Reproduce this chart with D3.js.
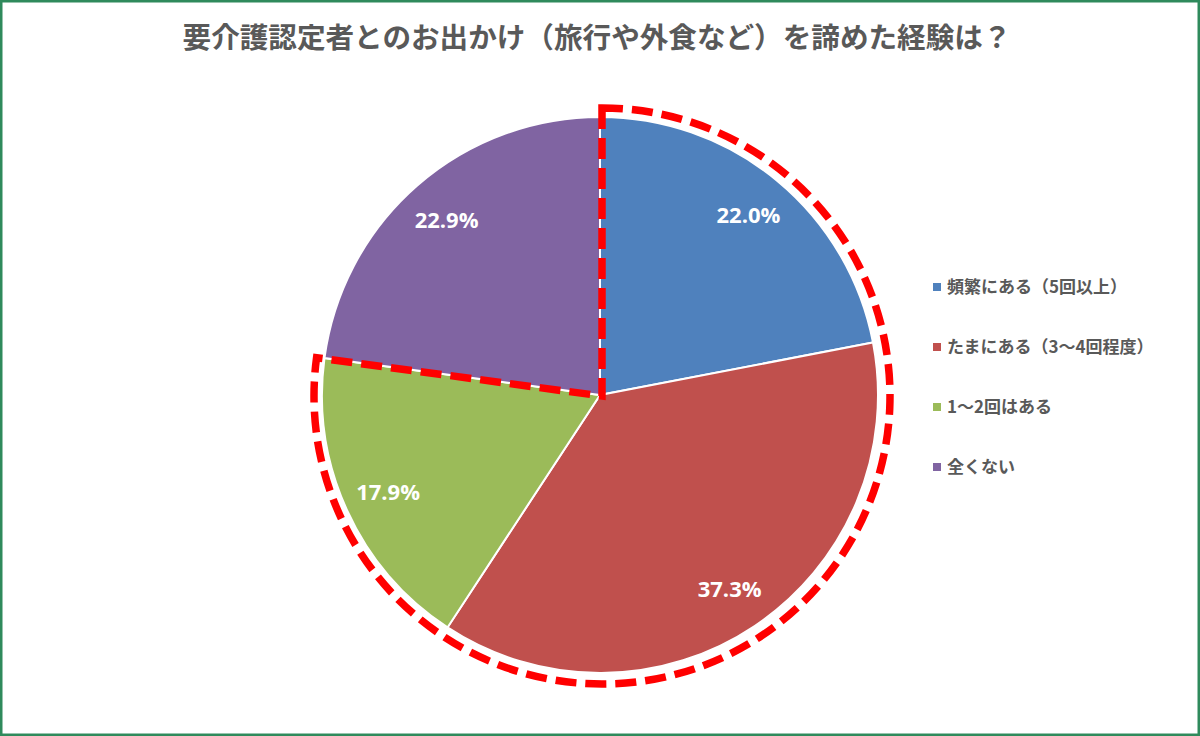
<!DOCTYPE html>
<html>
<head>
<meta charset="utf-8">
<script src="https://cdn.jsdelivr.net/npm/d3@7"></script>
<style>
  html, body { margin: 0; padding: 0; background: #fff; }
  svg { display: block; }
</style>
</head>
<body>
<svg id="chart"></svg>
<script>
const titleText = '要介護認定者とのお出かけ（旅行や外食など）を諦めた経験は？';
const categories = ['頻繁にある（5回以上）', 'たまにある（3〜4回程度）', '1〜2回はある', '全くない'];
const values = [22.0, 37.3, 17.9, 22.9];
const colors = ['#4f81bd', '#c0504d', '#9bbb59', '#8064a2'];
// slices wrapped by the red dashed outline (first three)
const highlighted = 3;

const W = 1200, H = 736;
const cx = 600, cy = 395, r = 278;

const svg = d3.select('#chart').attr('width', W).attr('height', H);

// Green frame
svg.append('rect')
  .attr('x', 1.25).attr('y', 1.25)
  .attr('width', W - 2.5).attr('height', H - 2.5)
  .attr('fill', '#fff')
  .attr('stroke', '#2f8a5c')
  .attr('stroke-width', 2.5);

// Title
svg.append('text')
  .attr('x', 597).attr('y', 48)
  .attr('text-anchor', 'middle')
  .style('font-family', "'Noto Sans CJK JP', sans-serif")
  .style('font-weight', 700)
  .style('font-size', '28.6px')
  .style('fill', '#595959')
  .text(titleText);

const data = categories.map((c, i) => ({ name: c, value: values[i], color: colors[i] }));

const pie = d3.pie().value(d => d.value).sort(null);
const arcs = pie(data);
const arc = d3.arc().innerRadius(0).outerRadius(r);
const labelArc = d3.arc().innerRadius(233).outerRadius(233);

const g = svg.append('g').attr('transform', `translate(${cx},${cy})`);

g.selectAll('path.slice')
  .data(arcs)
  .enter()
  .append('path')
  .attr('class', 'slice')
  .attr('d', arc)
  .attr('fill', d => d.data.color)
  .attr('stroke', '#fff')
  .attr('stroke-width', 2);

// Data labels
g.selectAll('text.lbl')
  .data(arcs)
  .enter()
  .append('text')
  .attr('class', 'lbl')
  .attr('transform', d => `translate(${labelArc.centroid(d)})`)
  .attr('text-anchor', 'middle')
  .attr('dy', '0.36em')
  .style('font-family', "'Open Sans', sans-serif")
  .style('font-weight', 700)
  .style('font-size', '22px')
  .style('fill', '#fff')
  .text(d => d.data.value.toFixed(1) + '%');

// Red dashed outline around the highlighted slices
const outline = d3.arc()
  .innerRadius(0)
  .outerRadius(288)
  .startAngle(arcs[0].startAngle)
  .endAngle(arcs[highlighted - 1].endAngle);

g.append('path')
  .attr('d', outline())
  .attr('transform', 'translate(2,1)')
  .attr('fill', 'none')
  .attr('stroke', '#ff0000')
  .attr('stroke-width', 7.5)
  .attr('stroke-dasharray', '21 9')
  .attr('stroke-linejoin', 'miter');

// Legend
const legend = svg.append('g').attr('transform', 'translate(933,287)');
const rows = legend.selectAll('g')
  .data(data)
  .enter()
  .append('g')
  .attr('transform', (d, i) => `translate(0,${i * 60})`);

rows.append('rect')
  .attr('x', 0).attr('y', -4)
  .attr('width', 8).attr('height', 8)
  .attr('fill', d => d.color);

rows.append('text')
  .attr('x', 14)
  .attr('dy', '0.36em')
  .style('font-family', "'Noto Sans CJK JP', sans-serif")
  .style('font-weight', 700)
  .style('font-size', '17px')
  .style('fill', '#595959')
  .text(d => d.name);
</script>
</body>
</html>
